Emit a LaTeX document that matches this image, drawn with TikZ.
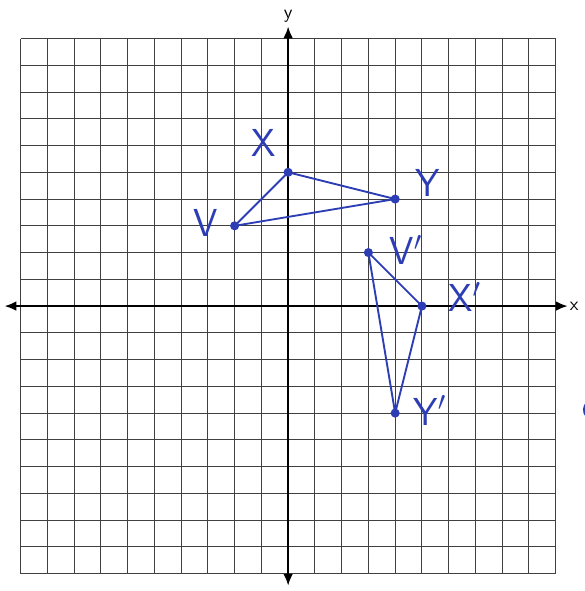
\documentclass[tikz,border=0pt]{standalone}
\usepackage{tikz}
\usetikzlibrary{arrows.meta}
\definecolor{penblue}{RGB}{45,62,180}

\begin{document}
\begin{tikzpicture}[x=0.5cm, y=0.5cm, every node/.style={font=\sffamily}, >={Latex[length=2.2mm, width=1.8mm]}, gridline/.style={black!75, line width=0.55pt}, pen/.style={penblue, line width=1pt}, dot/.style={circle, fill=penblue, inner sep=0pt, minimum size=1.7mm}, handlabel/.style={text=penblue, font=\sffamily\huge}]
	\useasboundingbox (-10.77,-10.65) rectangle (11.07,11.44);
	\draw[gridline, step=0.5cm] (-10,-10) grid (10,10);
	\coordinate (xmin) at (-10.6,0);
	\coordinate (xmax) at (10.45,0);
	\coordinate (ymin) at (0,-10.45);
	\coordinate (ymax) at (0,10.45);
	\draw[<->, line width=1pt] (xmin) -- (xmax);
	\draw[<->, line width=1pt] (ymin) -- (ymax);
	\node[anchor=west, inner sep=1pt] (xlab) at (xmax) {x};
	\node[anchor=south, inner sep=2pt] (ylab) at (ymax) {y};
	% original triangle
	\coordinate (X) at (0,5);
	\coordinate (Y) at (4,4);
	\coordinate (V) at (-2,3);
	\draw[pen] (X) -- (Y) -- (V) -- cycle;
	% rotated image
	\coordinate (X') at (5,0);
	\coordinate (Y') at (4,-4);
	\coordinate (V') at (3,2);
	\draw[pen] (V') -- (X') -- (Y') -- cycle;
	\foreach \p in {X,Y,V,X',Y',V'} \node[dot] at (\p) {};
	\node[handlabel] (labX) at (-0.93,6.1) {X};
	\node[handlabel] (labV) at (-3.1,3.1) {V};
	\node[handlabel] (labY) at (5.2,4.6) {Y};
	\node[handlabel] (labV') at (4.4,2.1) {V$'$};
	\node[handlabel] (labX') at (6.6,0.35) {X$'$};
	\node[handlabel] (labY') at (5.3,-3.9) {Y$'$};
	% stray pen mark at the right edge
	\draw[pen, line width=1.4pt] (11.3,-3.55) arc (110:250:0.35);
\end{tikzpicture}
\end{document}
